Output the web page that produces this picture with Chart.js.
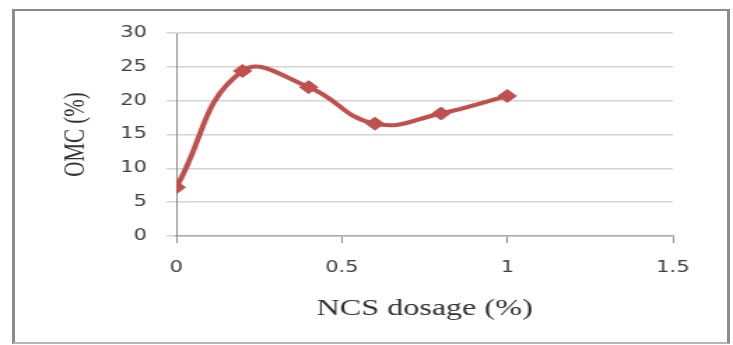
<!DOCTYPE html>
<html>
<head>
<meta charset="utf-8">
<title>OMC vs NCS dosage</title>
<script src="https://cdn.jsdelivr.net/npm/chart.js@4"></script>
<style>
    html, body { margin: 0; padding: 0; background: #fff; }
    body { width: 733px; height: 345px; position: relative; overflow: hidden; }
    /* 外框 */
    .frame {
        position: absolute; left: 12px; top: 9px; width: 718px; height: 335px;
        box-sizing: border-box;
        border-style: solid; border-color: #8c8c8c #8c8c8c #b4b4b4 #8c8c8c;
        border-width: 2px 3px 2px 3px;
    }
    /* 原图是横向拉伸过的，这里也一样拉伸 */
    .stretch {
        position: absolute; left: 0; top: 0; width: 524px; height: 345px;
        transform: scaleX(1.3989); transform-origin: 0 0;
    }
</style>
</head>
<body>
<div class="frame"></div>
<div class="stretch"><canvas id="omcChart" width="524" height="345"></canvas></div>
<script>
// 数据
const dosage = [0, 0.2, 0.4, 0.6, 0.8, 1.0];
const omc = [7.2, 24.4, 22.0, 16.6, 18.1, 20.7];

// 坐标轴
const xTicks = [0, 0.5, 1, 1.5];
const yTicks = [0, 5, 10, 15, 20, 25, 30];
const xTitle = 'NCS dosage (%)';
const yTitle = 'OMC (%)';

const RED = '#c0504d';

const points = dosage.map((x, i) => ({ x: x, y: omc[i] }));

const ctx = document.getElementById('omcChart').getContext('2d');
new Chart(ctx, {
    type: 'scatter',
    data: {
        datasets: [{
            label: yTitle,
            data: points,
            showLine: true,
            tension: 0.45,
            borderColor: RED,
            backgroundColor: RED,
            borderWidth: 4,
            pointStyle: 'rectRot',
            pointRadius: 6.5,
            pointBorderWidth: 1,
            pointBackgroundColor: RED,
            pointBorderColor: RED
        }]
    },
    options: {
        responsive: false,
        animation: false,
        layout: {
            padding: { left: 30, right: 43, top: 33, bottom: 20 }
        },
        plugins: {
            legend: { display: false },
            tooltip: { enabled: false }
        },
        scales: {
            x: {
                type: 'linear',
                min: xTicks[0],
                max: xTicks[xTicks.length - 1],
                afterBuildTicks: (axis) => { axis.ticks = xTicks.map(v => ({ value: v })); },
                afterFit: (axis) => { axis.height = 89; },
                grid: {
                    drawOnChartArea: false,
                    drawTicks: true,
                    tickLength: 7,
                    tickColor: '#8a8a8a'
                },
                border: { color: '#ababab', width: 1.5 },
                ticks: {
                    padding: 16,
                    color: '#404040',
                    font: { family: 'DejaVu Sans', size: 15 },
                    callback: (v) => String(v)
                },
                title: {
                    display: true,
                    text: xTitle,
                    color: '#303030',
                    padding: { top: 0, bottom: 2 },
                    font: { family: 'Liberation Serif', size: 23 }
                }
            },
            y: {
                min: yTicks[0],
                max: yTicks[yTicks.length - 1],
                afterBuildTicks: (axis) => { axis.ticks = yTicks.map(v => ({ value: v })); },
                afterFit: (axis) => { axis.width = 96; },
                grid: {
                    color: '#d4d4d4',
                    lineWidth: 1.5,
                    tickLength: 7
                },
                border: { color: '#8a8a8a', width: 1 },
                ticks: {
                    padding: 14,
                    color: '#404040',
                    font: { family: 'DejaVu Sans', size: 15 },
                    callback: (v) => String(v)
                },
                title: {
                    display: true,
                    text: yTitle,
                    color: '#303030',
                    padding: { top: 12, bottom: 0 },
                    font: { family: 'Liberation Serif', size: 21 }
                }
            }
        }
    }
});
</script>
</body>
</html>
